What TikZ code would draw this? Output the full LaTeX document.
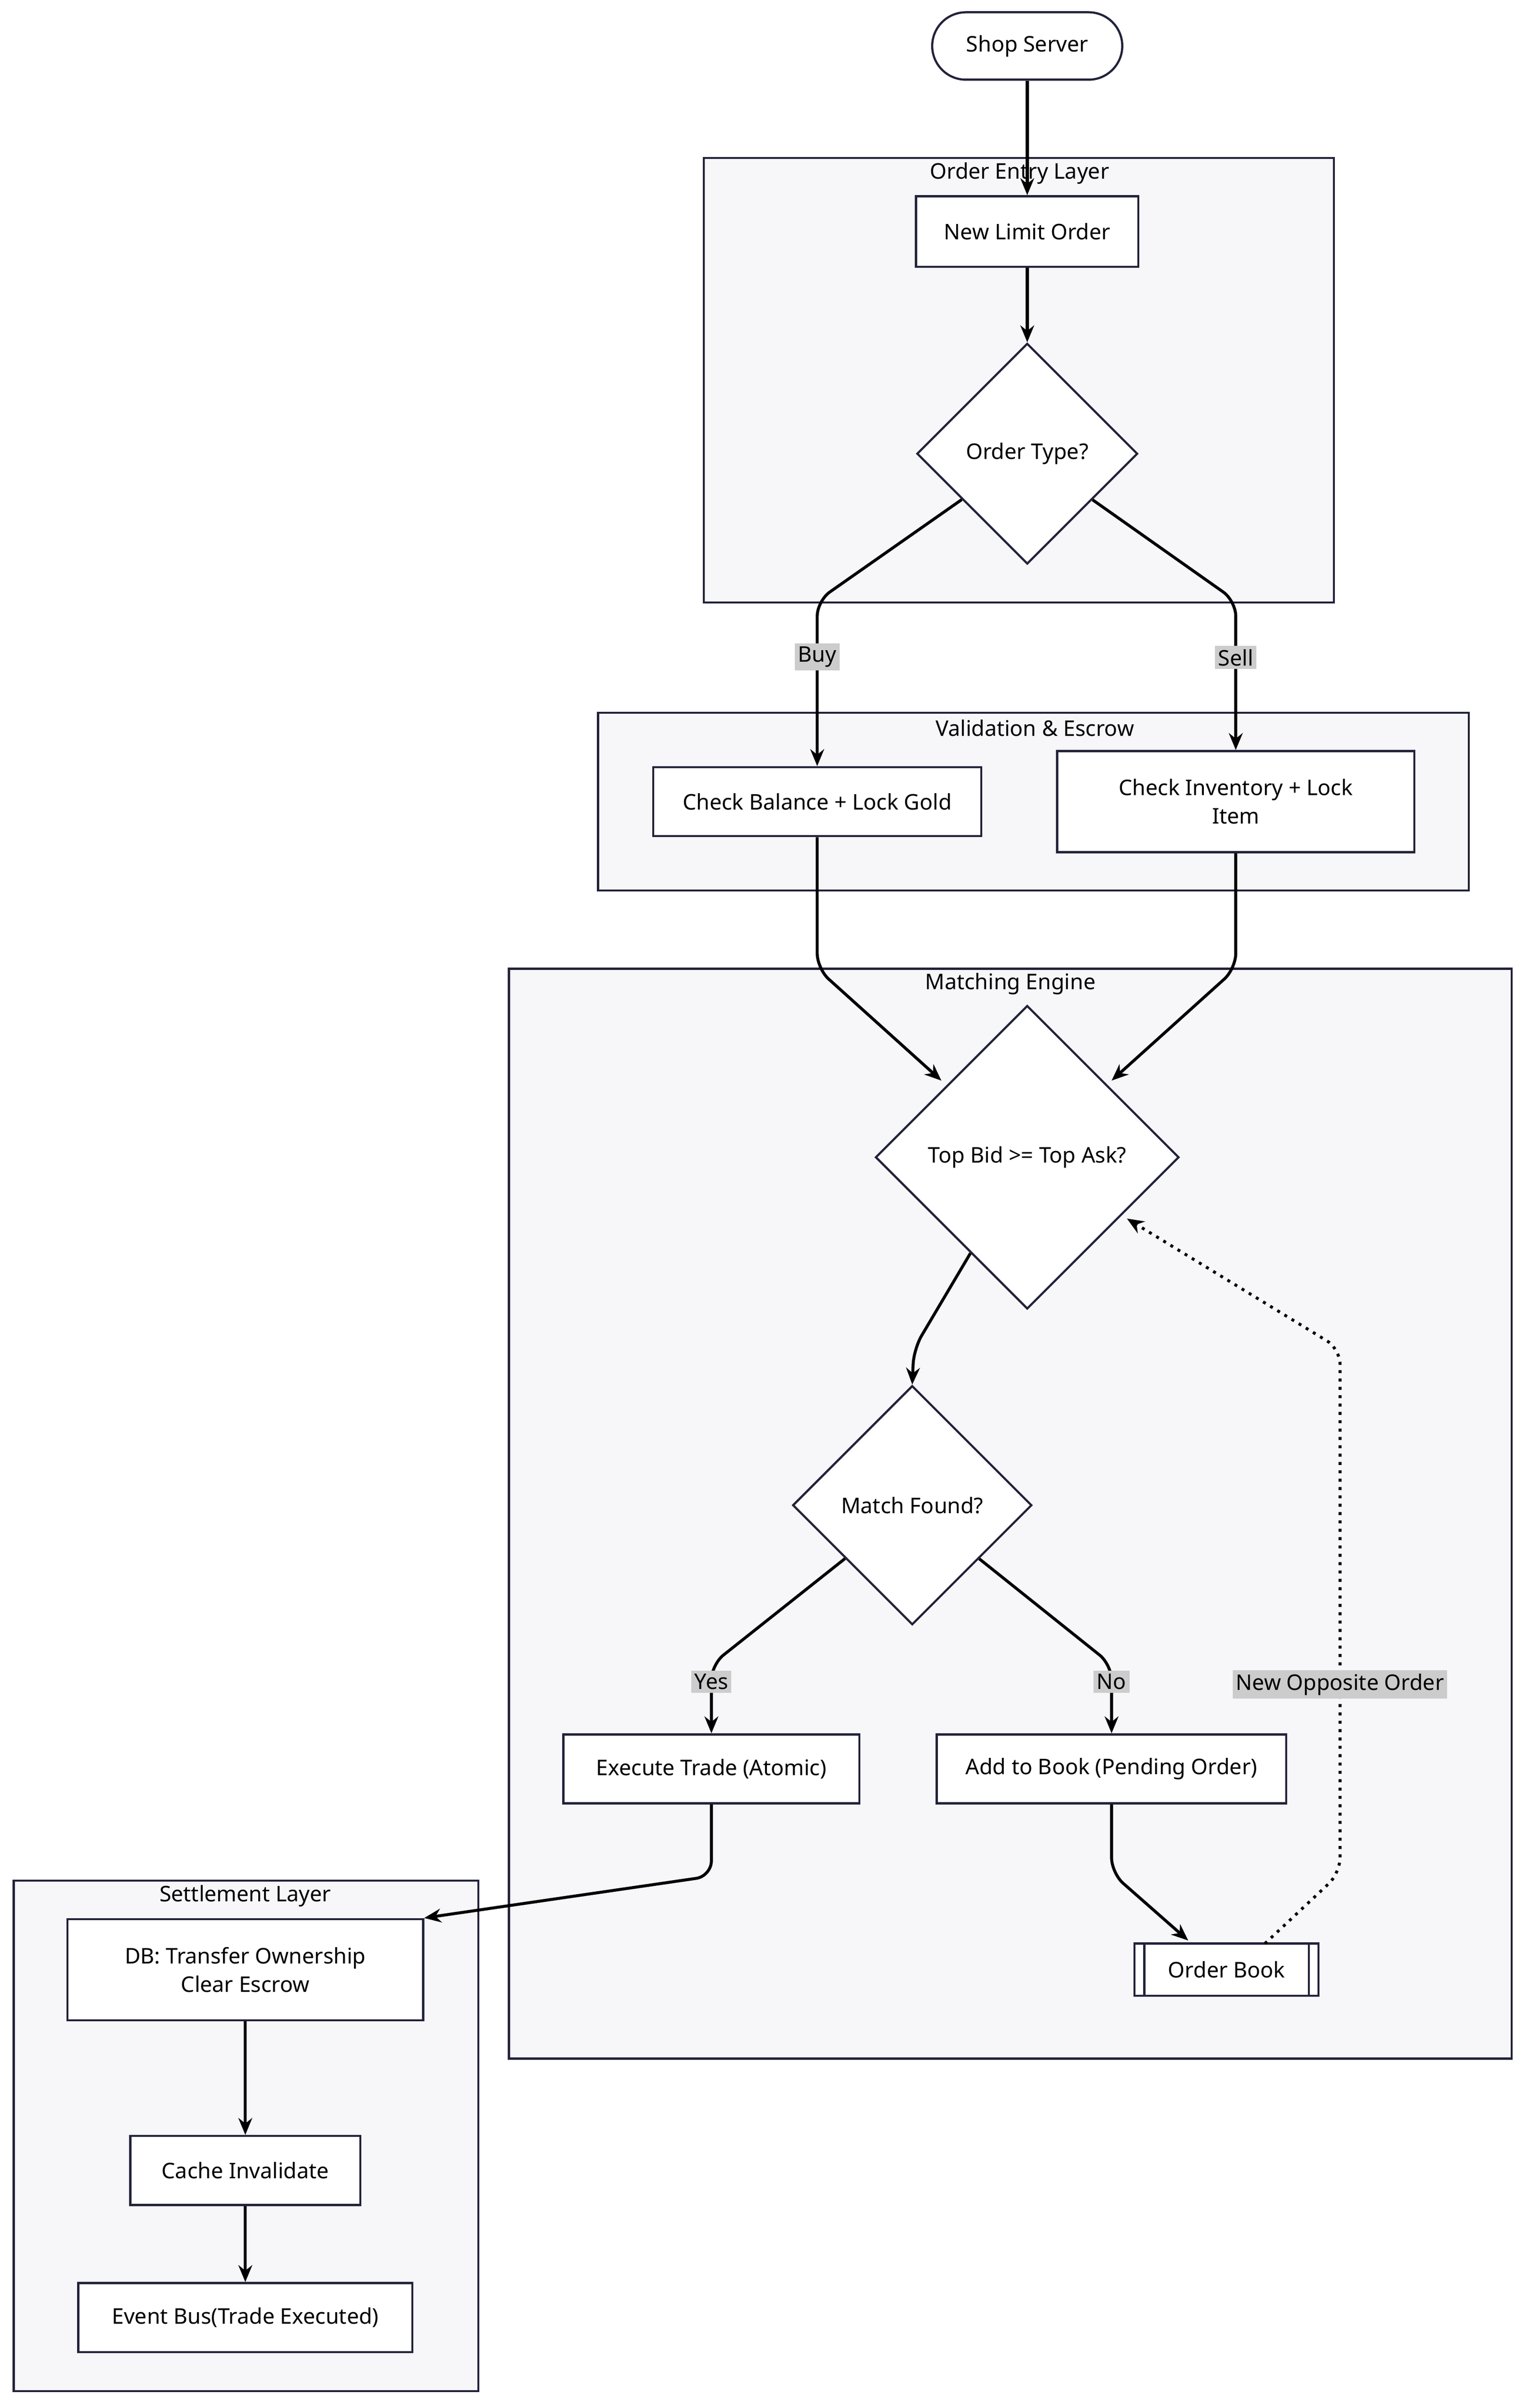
\documentclass[tikz,border=0pt]{standalone}
\usepackage{fontspec}
\setmainfont{Noto Sans}
\usetikzlibrary{shapes.geometric,arrows.meta,positioning}
\definecolor{edge}{HTML}{22223A}
\definecolor{clus}{HTML}{F7F7FA}
\definecolor{lblbg}{HTML}{CCCCCC}
\tikzset{
  box/.style={shape=rectangle, draw=edge, fill=white, line width=0.8pt, inner sep=0pt, align=center, font=\fontsize{8}{10.5}\selectfont},
  dec/.style={shape=diamond, draw=edge, fill=white, line width=0.8pt, inner sep=0pt, aspect=1, font=\fontsize{8}{9}\selectfont},
  cluster/.style={draw=edge, fill=clus, line width=0.8pt},
  ctitle/.style={font=\fontsize{8}{9}\selectfont},
  arr/.style={-{Stealth[length=0.22cm,width=0.18cm]}, line width=1.1pt, rounded corners=0.2cm},
  lbl/.style={fill=lblbg, sharp corners, inner sep=1.2pt, font=\fontsize{8}{9}\selectfont},
}
\begin{document}
\begin{tikzpicture}[x=0.02cm, y=-0.02cm]
    \useasboundingbox (0,0) rectangle (997,1571);

    % subgraphs
    \draw[cluster] (459,103) rectangle (870,393);
    \node[ctitle] (t1) at (665,113) {Order Entry Layer};
    \draw[cluster] (390,465) rectangle (958,581);
    \node[ctitle] (t2) at (675,475) {Validation \& Escrow};
    \draw[cluster] (332,632) rectangle (986,1343);
    \node[ctitle] (t3) at (659,642) {Matching Engine};
    \draw[cluster] (9,1227) rectangle (312,1560);
    \node[ctitle] (t4) at (160,1237) {Settlement Layer};

    % nodes
    \node (shop) at (670,30) [box, rounded corners=0.44cm, minimum width=2.48cm, minimum height=0.88cm] {Shop Server};
    \node (nlo) at (670,151) [box, minimum width=2.9cm, minimum height=0.92cm] {New Limit Order};
    \node (otype) at (670,296) [dec, minimum width=2.88cm, minimum height=2.88cm] {Order Type?};
    \node (bal) at (533,523) [box, minimum width=4.28cm, minimum height=0.9cm] {Check Balance + Lock Gold};
    \node (inv) at (806,523) [box, minimum width=4.66cm, minimum height=1.32cm] {Check Inventory + Lock\\Item};
    \node (top) at (670,755) [dec, minimum width=3.96cm, minimum height=3.96cm] {Top Bid >= Top Ask?};
    \node (match) at (595,982) [dec, minimum width=3.12cm, minimum height=3.12cm] {Match Found?};
    \node (exec) at (464,1154) [box, minimum width=3.86cm, minimum height=0.9cm] {Execute Trade (Atomic)};
    \node (add) at (725,1154) [box, minimum width=4.56cm, minimum height=0.9cm] {Add to Book (Pending Order)};
    \node (book) at (800,1285) [box, minimum width=2.4cm, minimum height=0.68cm] {Order Book};
    \draw[edge, line width=0.8pt] ([xshift=0.14cm]book.north west) -- ([xshift=0.14cm]book.south west);
    \draw[edge, line width=0.8pt] ([xshift=-0.14cm]book.north east) -- ([xshift=-0.14cm]book.south east);
    \node (db) at (160,1285) [box, minimum width=4.64cm, minimum height=1.32cm] {DB: Transfer Ownership\\Clear Escrow};
    \node (cache) at (160,1416) [box, minimum width=3cm, minimum height=0.9cm] {Cache Invalidate};
    \node (bus) at (160,1512) [box, minimum width=4.36cm, minimum height=0.9cm] {Event Bus(Trade Executed)};

    % edges
    \draw[arr] (shop) -- (nlo);
    \draw[arr] (nlo) -- (otype);
    \draw[arr] (otype) -- (533,392) -- node[lbl, pos=0.34] {Buy} (bal.north);
    \draw[arr] (otype) -- (806,392) -- node[lbl, pos=0.38] {Sell} (inv.north);
    \draw[arr] (bal) -- (533,632) -- (614,705);
    \draw[arr] (inv) -- (806,632) -- (725,705);
    \draw[arr] (top) -- (596,880) -- (match.north);
    \draw[arr] (match) -- (464,1086) -- node[lbl, pos=0.25] {Yes} (exec.north);
    \draw[arr] (match) -- (725,1086) -- node[lbl, pos=0.25] {No} (add.north);
    \draw[arr] (add) -- (725,1222) -- (775,1266);
    \draw[arr] (exec) -- (464,1224) -- (db.north east);
    \draw[arr] (db) -- (cache);
    \draw[arr] (cache) -- (bus);
    \draw[arr, dotted] (825,1268) -- (874,1222) -- node[lbl, pos=0.36] {New Opposite Order} (874,880) -- (735,795);
\end{tikzpicture}
\end{document}
